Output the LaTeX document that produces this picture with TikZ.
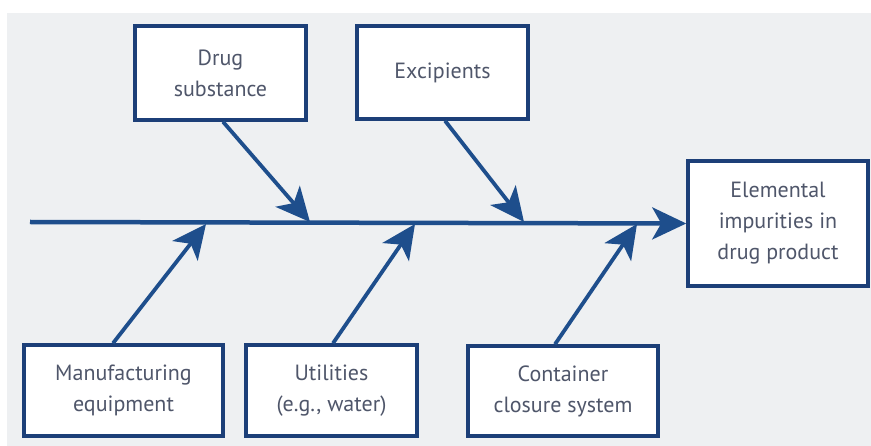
\documentclass[tikz,border=0pt]{standalone}
\usepackage{fontspec}
\setmainfont{PT Sans}
\usetikzlibrary{arrows.meta}
\definecolor{navy}{HTML}{1C3F78}
\definecolor{arrowblue}{HTML}{1E4E8C}
\definecolor{bggray}{HTML}{EEF0F2}
\definecolor{txtgray}{HTML}{4F566A}
\begin{document}
\begin{tikzpicture}[x=1pt,y=-1pt,
  cause/.style={draw=navy,line width=3.5pt,fill=white,text=txtgray,align=center,
    font=\fontsize{22}{31}\selectfont,inner sep=0pt},
  bone/.style={draw=arrowblue,line width=3.8pt,-{Stealth[length=34pt,width=32pt,inset=9pt]}}]
\useasboundingbox (0,0) rectangle (871,446);
\fill[white] (0,0) rectangle (871,446);
\fill[bggray] (7,13) rectangle (871,446);
% boxes
\node[cause,minimum width=171pt,minimum height=94pt] (drug) at (220.5,73) {Drug\\substance};
\node[cause,minimum width=171pt,minimum height=93pt] (exc) at (442.5,72.5) {Excipients};
\node[cause,minimum width=180pt,minimum height=125pt] (elem) at (778,223.5) {Elemental\\impurities in\\drug product};
\node[cause,minimum width=199pt,minimum height=91pt] (manu) at (123.5,390.5) {Manufacturing\\equipment};
\node[cause,minimum width=171pt,minimum height=91pt] (util) at (331.5,390.5) {Utilities\\(e.g., water)};
\node[cause,minimum width=190pt,minimum height=90pt] (cont) at (563,391) {Container\\closure system};
% spine
\coordinate (tail) at (30,222);
\coordinate (d1) at (310,222);
\coordinate (d2) at (524,222);
\coordinate (u1) at (206,224);
\coordinate (u2) at (415,224);
\coordinate (u3) at (637,224);
\draw[draw=arrowblue,line width=4.5pt,-{Stealth[length=34pt,width=32pt,inset=9pt]}] (tail) -- (elem.west);
\draw[bone] (drug.south -| 223,0) -- (d1);
\draw[bone] (exc.south -| 445,0) -- (d2);
\draw[bone] (manu.north -| 113,0) -- (u1);
\draw[bone] (util.north -| 333,0) -- (u2);
\draw[bone] (cont.north -| 555,0) -- (u3);
\end{tikzpicture}
\end{document}
